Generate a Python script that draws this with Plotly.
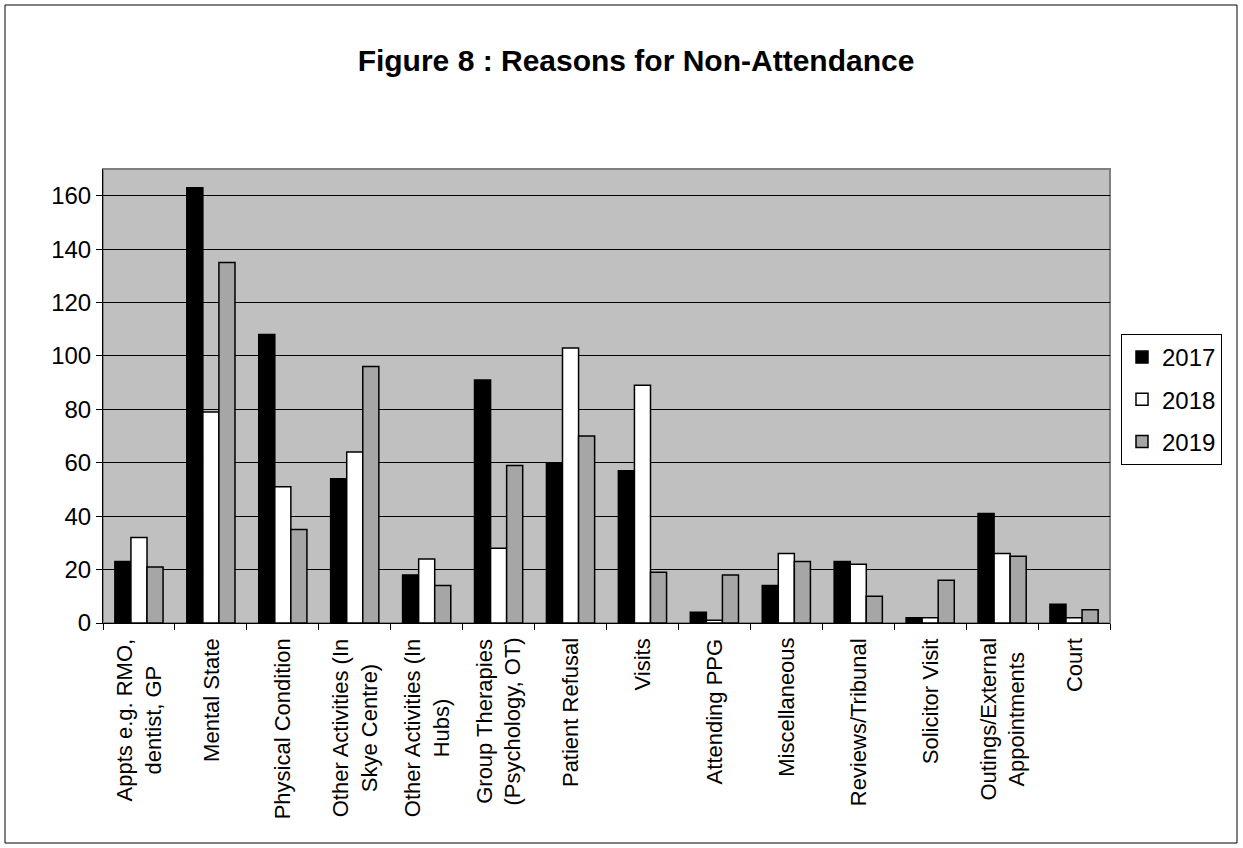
import plotly.graph_objects as go

# Reasons for non-attendance, counts per year
categories = [
    "Appts e.g. RMO,<br>dentist, GP",
    "Mental State",
    "Physical Condition",
    "Other Activities (In<br>Skye Centre)",
    "Other Activities (In<br>Hubs)",
    "Group Therapies<br>(Psychology, OT)",
    "Patient Refusal",
    "Visits",
    "Attending PPG",
    "Miscellaneous",
    "Reviews/Tribunal",
    "Solicitor Visit",
    "Outings/External<br>Appointments",
    "Court",
]
values_2017 = [23, 163, 108, 54, 18, 91, 60, 57, 4, 14, 23, 2, 41, 7]
values_2018 = [32, 79, 51, 64, 24, 28, 103, 89, 1, 26, 22, 2, 26, 2]
values_2019 = [21, 135, 35, 96, 14, 59, 70, 19, 18, 23, 10, 16, 25, 5]
y_ticks = [0, 20, 40, 60, 80, 100, 120, 140, 160]

FONT = "Arial, Liberation Sans, sans-serif"

series = [
    ("2017", values_2017, "#000000"),
    ("2018", values_2018, "#ffffff"),
    ("2019", values_2019, "#a6a6a6"),
]

fig = go.Figure()
for name, vals, color in series:
    fig.add_trace(go.Bar(
        name=name,
        x=categories,
        y=vals,
        marker=dict(color=color, line=dict(color="#000000", width=1.5)),
        legendgroup=name,
    ))

# Category labels: vertical, lines centred on each other, hanging below the axis
annotations = [
    dict(
        x=cat, y=0, xref="x", yref="paper",
        text=cat, textangle=-90, align="center",
        xanchor="center", yanchor="top", yshift=-13,
        showarrow=False,
        font=dict(family=FONT, size=22, color="#000000"),
    )
    for cat in categories
]

W, H = 1243, 848
L, R, T, B = 103, 133, 169, 225
pw, ph = W - L - R, H - T - B

fig.update_layout(
    width=W, height=H,
    margin=dict(l=L, r=R, t=T, b=B, autoexpand=False),
    paper_bgcolor="#ffffff",
    plot_bgcolor="#c0c0c0",
    barmode="group",
    bargap=0.33,
    bargroupgap=0,
    font=dict(family=FONT, color="#000000", size=22),
    title=dict(
        text="<b>Figure 8 : Reasons for Non-Attendance</b>",
        font=dict(family=FONT, size=30, color="#000000"),
        x=(636 / W), xanchor="center",
        y=1 - 60 / H, yanchor="middle",
    ),
    legend=dict(
        x=(1121 - L) / pw, xanchor="left",
        y=(H - B - 334) / ph, yanchor="top",
        bgcolor="#ffffff",
        bordercolor="#000000", borderwidth=1,
        font=dict(family=FONT, size=24, color="#000000"),
        traceorder="grouped",
        tracegroupgap=8,
        itemwidth=30,
    ),
    xaxis=dict(
        type="category",
        tickson="boundaries",
        ticks="outside", ticklen=6, tickcolor="#000000", tickwidth=1,
        showticklabels=False,
        showline=True, linecolor="#000000", linewidth=1,
        showgrid=False,
    ),
    yaxis=dict(
        range=[0, 170],
        tickvals=y_ticks,
        ticks="outside", ticklen=6, tickcolor="#000000", tickwidth=1,
        showline=True, linecolor="#000000", linewidth=1,
        showgrid=True, gridcolor="#000000", gridwidth=1,
        zeroline=False,
        tickfont=dict(family=FONT, size=24, color="#000000"),
    ),
    annotations=annotations,
    shapes=[
        # plot-area frame (grey top/right edges)
        dict(type="rect", xref="paper", yref="paper", x0=0, x1=1, y0=0, y1=1,
             line=dict(color="#808080", width=2), layer="below"),
        # outer chart frame
        dict(type="rect", xref="paper", yref="paper",
             x0=(5 - L) / pw, x1=(1237 - L) / pw,
             y0=(H - B - 843) / ph, y1=(H - B - 5) / ph,
             line=dict(color="#000000", width=1), layer="below"),
    ],
)

fig.write_html("out.html")
